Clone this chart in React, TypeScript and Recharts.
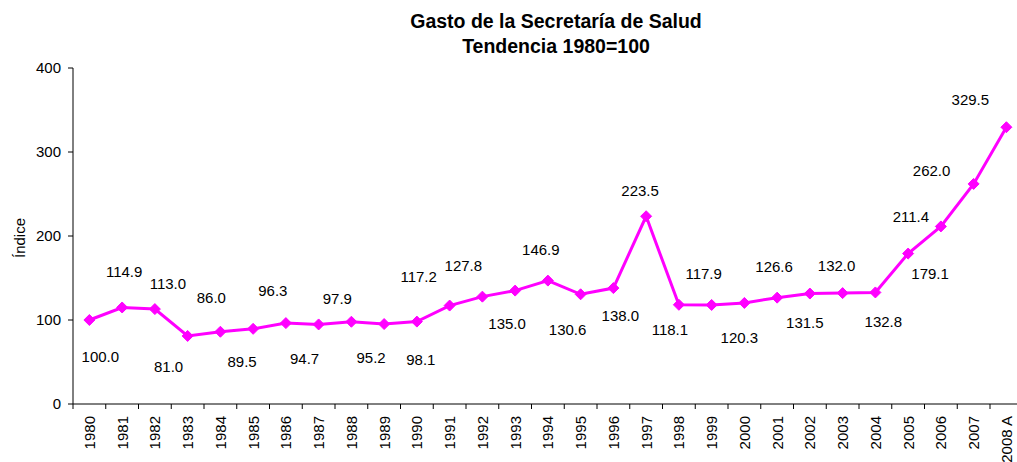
import React from 'react';
import { LineChart, Line, XAxis, YAxis, LabelList } from 'recharts';

const years = [
  '1980', '1981', '1982', '1983', '1984', '1985', '1986', '1987', '1988', '1989',
  '1990', '1991', '1992', '1993', '1994', '1995', '1996', '1997', '1998', '1999',
  '2000', '2001', '2002', '2003', '2004', '2005', '2006', '2007', '2008 A',
];

const indexValues = [
  100.0, 114.9, 113.0, 81.0, 86.0, 89.5, 96.3, 94.7, 97.9, 95.2,
  98.1, 117.2, 127.8, 135.0, 146.9, 130.6, 138.0, 223.5, 118.1, 117.9,
  120.3, 126.6, 131.5, 132.0, 132.8, 179.1, 211.4, 262.0, 329.5,
];

const yTicks = [0, 100, 200, 300, 400];

// where each data label sits relative to its point (dx, dy)
const labelOffsets: [number, number][] = [
  [11, 36], [2, -36], [13, -26], [-19, 31], [-9, -34], [-11, 33], [-13, -33], [-14, 34],
  [-14, -23], [-13, 33], [4, 38], [-31, -29], [-19, -31], [-8, 33], [-7, -31], [-13, 35],
  [7, 27], [-6, -26], [-9, 25], [-8, -31], [-5, 35], [-3, -31], [-5, 29], [-6, -28],
  [8, 29], [22, 20], [-30, -10], [-42, -13], [-36, -28],
];

const data = years.map((year, i) => ({ year, value: indexValues[i] }));

const FONT = '"Liberation Sans", Arial, sans-serif';
const MAGENTA = '#FF00FF';
const HALF_BAND = 16.375;

function Diamond(props: any) {
  const { cx, cy } = props;
  if (cx == null || cy == null) return null;
  const r = 5.5;
  return (
    <polygon
      points={`${cx},${cy - r} ${cx + r},${cy} ${cx},${cy + r} ${cx - r},${cy}`}
      fill={MAGENTA}
      stroke={MAGENTA}
      strokeWidth={1}
    />
  );
}

function YearTick(props: any) {
  const { x, y, payload } = props;
  const tx = x - HALF_BAND;
  return (
    <g>
      <line x1={tx} y1={y} x2={tx} y2={y + 5} stroke="#000" strokeWidth={1} />
      <text
        transform={`translate(${x + 5.4},${y + 12}) rotate(-90)`}
        textAnchor="end"
        fontSize={15}
        fontFamily={FONT}
        fill="#000"
      >
        {payload.value}
      </text>
    </g>
  );
}

function ValueLabel(props: any) {
  const { x, y, value, index } = props;
  const [dx, dy] = labelOffsets[index] || [0, -20];
  return (
    <text
      x={x + dx}
      y={y + dy}
      textAnchor="middle"
      dominantBaseline="central"
      fontSize={15}
      fontFamily={FONT}
      fill="#000"
    >
      {Number(value).toFixed(1)}
    </text>
  );
}

export default function App() {
  return (
    <div style={{ position: 'relative', width: 1017, height: 462, overflow: 'hidden', background: '#fff' }}>
      <style>{'body{margin:0;overflow:hidden}'}</style>
      <div
        style={{
          position: 'absolute', left: 356, top: 9.3, width: 400, textAlign: 'center',
          fontFamily: FONT, fontWeight: 'bold', fontSize: 19.5, lineHeight: '24.4px', color: '#000',
        }}
      >
        Gasto de la Secretaría de Salud
        <br />
        Tendencia 1980=100
      </div>
      <div
        style={{
          position: 'absolute', left: 18.5, top: 238, whiteSpace: 'nowrap',
          transform: 'translate(-50%,-50%) rotate(-90deg)',
          fontFamily: FONT, fontSize: 15, color: '#000',
        }}
      >
        Índice
      </div>
      <LineChart
        width={1025}
        height={462}
        data={data}
        margin={{ top: 68, right: 2.25, left: 0, bottom: 0 }}
        style={{ position: 'absolute', left: 0, top: 0 }}
      >
        <XAxis
          dataKey="year"
          interval={0}
          height={58}
          padding={{ left: HALF_BAND, right: HALF_BAND }}
          tickLine={false}
          tickSize={0}
          tickMargin={0}
          axisLine={{ stroke: '#000', strokeWidth: 1 }}
          tick={<YearTick />}
        />
        <YAxis
          domain={[0, 400]}
          ticks={yTicks}
          width={73}
          tickSize={5}
          tickMargin={7}
          tickLine={{ stroke: '#000' }}
          axisLine={{ stroke: '#000', strokeWidth: 1 }}
          tick={{ fontSize: 15, fontFamily: FONT, fill: '#000' }}
        />
        <Line
          type="linear"
          dataKey="value"
          stroke={MAGENTA}
          strokeWidth={3}
          dot={<Diamond />}
          activeDot={false}
          isAnimationActive={false}
        >
          <LabelList dataKey="value" content={<ValueLabel />} />
        </Line>
      </LineChart>
    </div>
  );
}
